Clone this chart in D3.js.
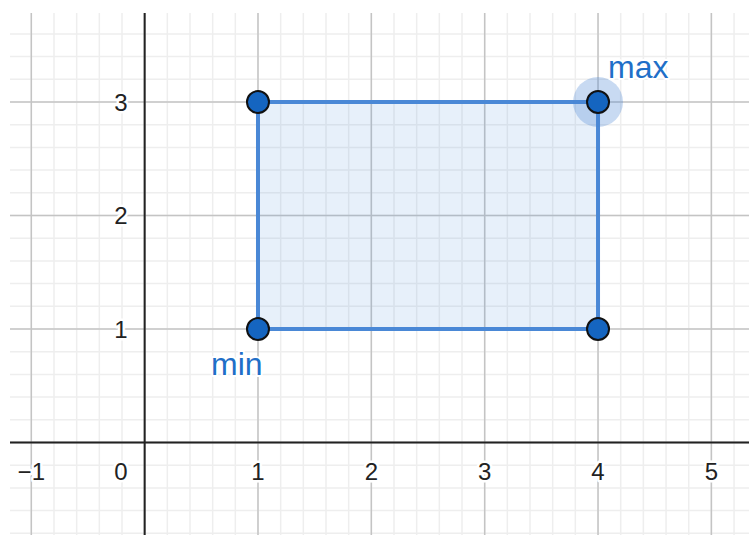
<!DOCTYPE html>
<html>
<head>
<meta charset="utf-8">
<script src="https://cdn.jsdelivr.net/npm/d3@7"></script>
<style>
  html, body { margin: 0; padding: 0; background: #fff; }
  svg { display: block; }
</style>
</head>
<body>
<div id="graph"></div>
<script>
// values
const xTicks = [-1, 0, 1, 2, 3, 4, 5];
const yTicks = [1, 2, 3];
const cornerX = [1, 4, 4, 1];
const cornerY = [1, 1, 3, 3];
const pointNames = ["min", "max"];
const pointX = [1, 4];
const pointY = [1, 3];

const width = 749, height = 535;
const plot = { left: 10, top: 13, right: 749, bottom: 535 };

const x = d3.scaleLinear().domain([-1.188, 5.332]).range([plot.left, plot.right]);
const y = d3.scaleLinear().domain([3.784, -0.815]).range([plot.top, plot.bottom]);

const svg = d3.select("#graph")
  .append("svg")
  .attr("width", width)
  .attr("height", height)
  .attr("viewBox", [0, 0, width, height]);

const minorX = d3.range(-6, 27).map(i => i * 0.2).filter(v => v > x.domain()[0] && v < x.domain()[1]);
const minorY = d3.range(-4, 19).map(i => i * 0.2).filter(v => v < y.domain()[0] && v > y.domain()[1]);
const majorX = d3.range(-1, 6);
const majorY = d3.range(0, 4);

const grid = svg.append("g");

grid.append("g").selectAll("line")
  .data(minorX)
  .join("line")
    .attr("x1", d => x(d)).attr("x2", d => x(d))
    .attr("y1", plot.top).attr("y2", plot.bottom)
    .attr("stroke", "#eeeeee")
    .attr("stroke-width", 1.5);

grid.append("g").selectAll("line")
  .data(minorY)
  .join("line")
    .attr("y1", d => y(d)).attr("y2", d => y(d))
    .attr("x1", plot.left).attr("x2", plot.right)
    .attr("stroke", "#eeeeee")
    .attr("stroke-width", 1.5);

grid.append("g").selectAll("line")
  .data(majorX)
  .join("line")
    .attr("x1", d => x(d)).attr("x2", d => x(d))
    .attr("y1", plot.top).attr("y2", plot.bottom)
    .attr("stroke", "#c4c4c4")
    .attr("stroke-width", 1.5);

grid.append("g").selectAll("line")
  .data(majorY)
  .join("line")
    .attr("y1", d => y(d)).attr("y2", d => y(d))
    .attr("x1", plot.left).attr("x2", plot.right)
    .attr("stroke", "#c4c4c4")
    .attr("stroke-width", 1.5);

// axes
svg.append("line")
  .attr("x1", plot.left).attr("x2", plot.right)
  .attr("y1", y(0)).attr("y2", y(0))
  .attr("stroke", "#222").attr("stroke-width", 2);
svg.append("line")
  .attr("x1", x(0)).attr("x2", x(0))
  .attr("y1", plot.top).attr("y2", plot.bottom)
  .attr("stroke", "#222").attr("stroke-width", 2);

// tick labels
const labelStyle = sel => sel
  .attr("font-family", "'Liberation Sans', Arial, sans-serif")
  .attr("font-size", 24)
  .attr("fill", "#222")
  .attr("stroke", "#fff")
  .attr("stroke-width", 5)
  .attr("stroke-linejoin", "round")
  .attr("paint-order", "stroke");

svg.append("g").selectAll("text")
  .data(xTicks)
  .join("text")
    .attr("x", d => d === 0 ? x(0) - 17 : x(d))
    .attr("y", y(0) + 38)
    .attr("text-anchor", d => d === 0 ? "end" : "middle")
    .text(d => d < 0 ? "\u2212" + Math.abs(d) : d)
    .call(labelStyle);

svg.append("g").selectAll("text")
  .data(yTicks)
  .join("text")
    .attr("x", x(0) - 17)
    .attr("y", d => y(d))
    .attr("dy", "0.36em")
    .attr("text-anchor", "end")
    .text(d => d)
    .call(labelStyle);

// rectangle
const corners = cornerX.map((cx, i) => [x(cx), y(cornerY[i])]);
svg.append("path")
  .attr("d", d3.line()(corners) + "Z")
  .attr("fill", "rgba(70, 140, 215, 0.13)")
  .attr("stroke", "#4a88d6")
  .attr("stroke-width", 4)
  .attr("stroke-linejoin", "miter");

// highlight on max
svg.append("circle")
  .attr("cx", x(pointX[1]))
  .attr("cy", y(pointY[1]))
  .attr("r", 25)
  .attr("fill", "rgba(74, 134, 212, 0.3)");

// corner points
svg.append("g").selectAll("circle")
  .data(cornerX.map((cx, i) => [cx, cornerY[i]]))
  .join("circle")
    .attr("cx", d => x(d[0]))
    .attr("cy", d => y(d[1]))
    .attr("r", 11)
    .attr("fill", "#1565c0")
    .attr("stroke", "#111")
    .attr("stroke-width", 2);

// point labels
const offsets = [[-47, 46], [10, -24]];
svg.append("g").selectAll("text")
  .data(pointNames)
  .join("text")
    .attr("x", (d, i) => x(pointX[i]) + offsets[i][0])
    .attr("y", (d, i) => y(pointY[i]) + offsets[i][1])
    .attr("font-family", "'Liberation Sans', Arial, sans-serif")
    .attr("font-size", 32)
    .attr("fill", "#1f6fc8")
    .attr("stroke", "#fff")
    .attr("stroke-width", 4)
    .attr("stroke-linejoin", "round")
    .attr("paint-order", "stroke")
    .text(d => d);
</script>
</body>
</html>
